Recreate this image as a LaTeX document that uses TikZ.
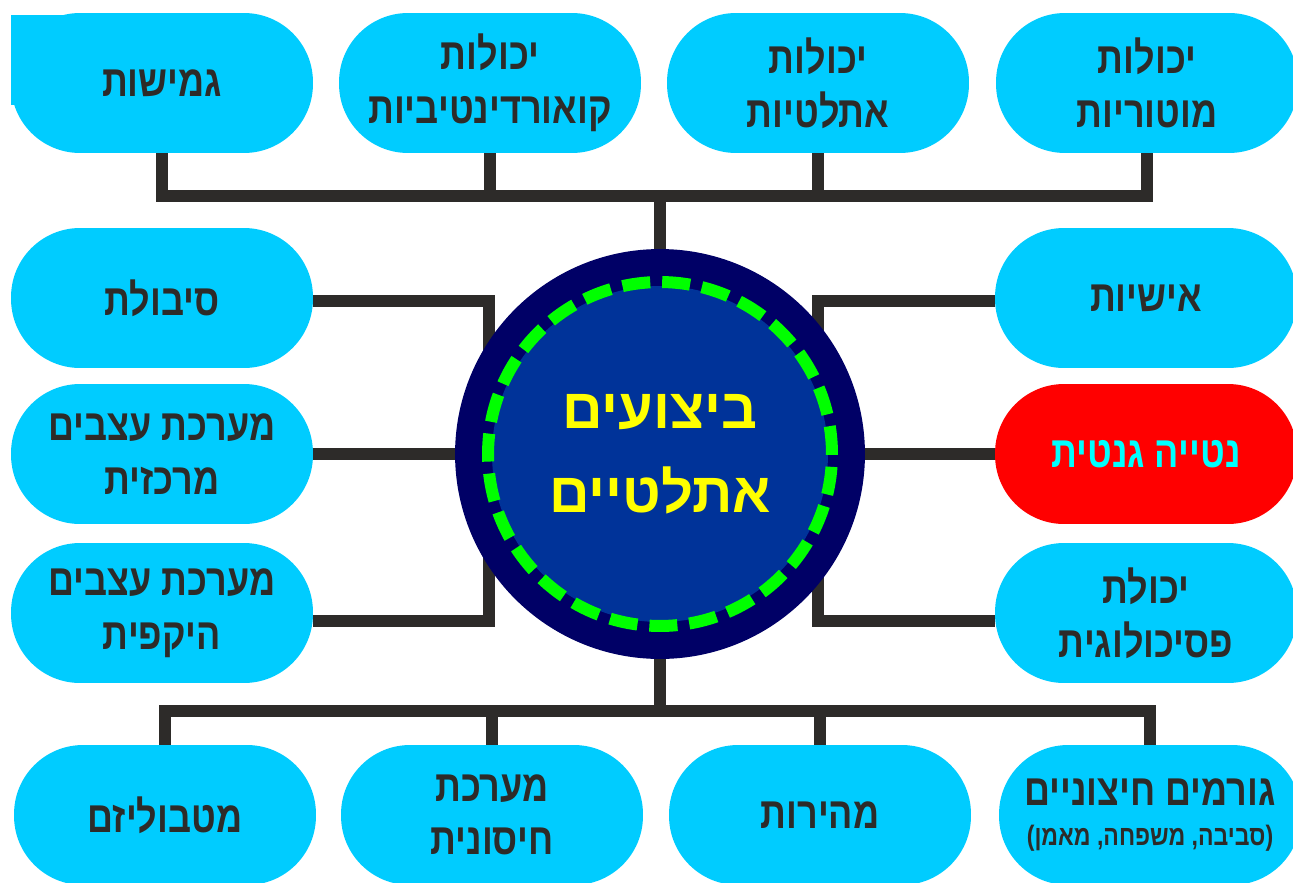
\documentclass[tikz,border=0pt]{standalone}
\usepackage{fontspec}
\usetikzlibrary{backgrounds}
\newfontfamily\hebfont[Script=Hebrew, FakeStretch=0.82]{Liberation Sans}
\newfontfamily\hubfont[Script=Hebrew]{Liberation Sans}
\TeXXeTstate=1
\newcommand{\heb}[1]{\beginR #1\endR}
\definecolor{pillcyan}{RGB}{0,204,255}
\definecolor{genered}{RGB}{255,0,0}
\definecolor{hubnavy}{RGB}{0,0,102}
\definecolor{hubblue}{RGB}{0,51,153}
\definecolor{dashgreen}{RGB}{0,255,0}
\definecolor{hubyellow}{RGB}{255,255,0}
\definecolor{textcyan}{RGB}{0,255,255}
\definecolor{linegray}{RGB}{45,43,41}

\begin{document}
\begin{tikzpicture}[
  x=0.02cm, y=-0.02cm,
  font=\hebfont\bfseries\fontsize{25}{30.5}\selectfont,
  conn/.style={draw=linegray, line width=0.24cm},
  pill/.style={fill=pillcyan, rounded corners=1.38cm, minimum width=6.04cm,
    minimum height=2.8cm, inner sep=0pt, align=center, text=linegray},
  genepill/.style={pill, fill=genered, text=textcyan},
  hub/.style={circle, fill=hubnavy, minimum size=8.2cm, inner sep=0pt,
    align=center, text=hubyellow,
    font=\hubfont\bfseries\fontsize{32}{48}\selectfont,
    path picture={
      \fill[hubblue] (path picture bounding box.center) circle[radius=3.36cm];
      \draw[dashgreen, line width=0.24cm, dash pattern=on 0.56cm off 0.24cm]
        (path picture bounding box.center) circle[radius=3.44cm];
    }}
]
\useasboundingbox (0,0) rectangle (1293,882);

% Top row.
\fill[pillcyan] (11,15) rectangle (80,105);
\node[pill] (flex) at (162,83) {\heb{גמישות}};
\node[pill] (coord) at (490,83) {\heb{יכולות}\\\heb{קואורדינטיביות}};
\node[pill] (athl) at (818,83) {\heb{יכולות}\\\heb{אתלטיות}};
\node[pill] (motor) at (1147,83) {\heb{יכולות}\\\heb{מוטוריות}};

% Centre.
\node[hub] (perf) at (660,454) {\heb{ביצועים}\\\heb{אתלטיים}};

% Left column.
\node[pill] (endur) at (162,298) {\heb{סיבולת}};
\node[pill] (cns) at (162,454) {\heb{מערכת עצבים}\\\heb{מרכזית}};
\node[pill] (pns) at (162,613) {\heb{מערכת עצבים}\\\heb{היקפית}};

% Right column.
\node[pill] (pers) at (1146,298) {\heb{אישיות}};
\node[genepill] (gene) at (1146,454) {\heb{נטייה גנטית}};
\node[pill] (psych) at (1146,613) {\heb{יכולת}\\\heb{פסיכולוגית}};

% Bottom row.
\node[pill] (metab) at (165,815) {\heb{מטבוליזם}};
\node[pill] (immune) at (492,815) {\heb{מערכת}\\\heb{חיסונית}};
\node[pill] (speed) at (820,815) {\heb{מהירות}};
\node[pill] (extern) at (1150,815)
  {\heb{גורמים חיצוניים}\\[-8pt]{\fontsize{16}{19}\selectfont\heb{(סביבה, משפחה, מאמן)}}};

\begin{scope}[on background layer]
% Top bus.
\coordinate (topbus) at (660,196);
\draw[conn] (flex.south) |- (topbus) -| (motor.south);
\draw[conn] (coord.south) -- (coord.south |- topbus);
\draw[conn] (athl.south) -- (athl.south |- topbus);
\draw[conn] (topbus) -- (perf.north);

% Side brackets.
\coordinate (leftbus) at (489,454);
\draw[conn] (endur.east |- 0,301) -| (leftbus) |- (pns.east |- 0,621);
\draw[conn] (cns.east) -- (perf.west);
\coordinate (rightbus) at (818,454);
\draw[conn] (pers.west |- 0,301) -| (rightbus) |- (psych.west |- 0,621);
\draw[conn] (gene.west) -- (perf.east);

% Bottom bus.
\coordinate (botbus) at (660,711);
\draw[conn] (perf.south) -- (botbus);
\draw[conn] (metab.north) |- (botbus) -| (extern.north);
\draw[conn] (immune.north) -- (immune.north |- botbus);
\draw[conn] (speed.north) -- (speed.north |- botbus);
\end{scope}

\end{tikzpicture}
\end{document}
